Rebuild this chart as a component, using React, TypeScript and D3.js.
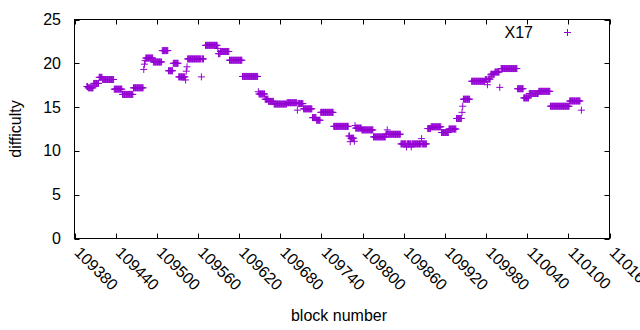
import React from "react";
import * as d3 from "d3";

// Runs of consecutive blocks with the same difficulty
const runStart = [
  109398, 109400, 109408, 109416, 109421, 109438, 109450, 109466, 109481, 109482,
  109483, 109484, 109495, 109508, 109517, 109524, 109532, 109542, 109543, 109544,
  109545, 109565, 109566, 109571, 109589, 109590, 109593, 109606, 109625, 109648,
  109649, 109658, 109663, 109671, 109690, 109705, 109706, 109714, 109727, 109733,
  109739, 109758, 109780, 109782, 109783, 109788, 109789, 109790, 109799, 109816,
  109834, 109836, 109837, 109856, 109864, 109865, 109871, 109872, 109886, 109887,
  109895, 109900, 109915, 109926, 109937, 109945, 109946, 109947, 109959, 109979,
  109982, 109983, 109987, 109993, 110000, 110002, 110026, 110035, 110043, 110057,
  110074, 110102, 110119,
];
const runEnd = [
  109399, 109407, 109415, 109420, 109437, 109449, 109465, 109480, 109481, 109482,
  109483, 109494, 109507, 109516, 109523, 109531, 109541, 109542, 109543, 109544,
  109564, 109565, 109568, 109588, 109589, 109592, 109605, 109624, 109647, 109648,
  109657, 109662, 109670, 109689, 109704, 109705, 109713, 109726, 109732, 109738,
  109757, 109779, 109781, 109782, 109787, 109788, 109789, 109798, 109815, 109833,
  109835, 109836, 109855, 109863, 109864, 109870, 109871, 109885, 109886, 109893,
  109899, 109914, 109925, 109936, 109944, 109945, 109946, 109956, 109978, 109981,
  109982, 109986, 109992, 109999, 110000, 110025, 110034, 110042, 110056, 110073,
  110101, 110117, 110119,
];
const runValue = [
  17.35, 17.2, 17.7, 18.4, 18.15, 17.05, 16.45, 17.2, 19.3, 19.9,
  20.3, 20.6, 20.15, 21.45, 19.15, 20.0, 18.45, 18.1, 19.1, 19.6,
  20.5, 18.45, 20.5, 22.05, 21.7, 21.1, 21.35, 20.35, 18.5, 16.75,
  16.5, 15.9, 15.65, 15.35, 15.5, 14.65, 15.4, 14.8, 13.8, 13.5,
  14.4, 12.8, 11.7, 11.05, 11.45, 11.1, 12.9, 12.6, 12.4, 11.6,
  11.9, 12.4, 11.9, 10.8, 10.45, 10.8, 10.45, 10.8, 11.4, 10.8,
  12.55, 12.75, 12.1, 12.5, 13.7, 14.4, 15.1, 15.9, 17.95, 18.15,
  17.55, 18.2, 18.75, 19.0, 17.25, 19.4, 17.1, 16.05, 16.55, 16.8,
  15.1, 15.7, 14.65,
];

const xTicks = [
  109380, 109440, 109500, 109560, 109620, 109680, 109740, 109800, 109860,
  109920, 109980, 110040, 110100, 110160,
];
const yTicks = [0, 5, 10, 15, 20, 25];
const seriesName = "X17";

const W = 640;
const H = 330;
const L = 74.5;
const R = 609.5;
const T = 19.5;
const B = 238.5;
const COLOR = "#9400d3";
const FONT = "'Liberation Sans', Arial, sans-serif";
const FS = 16;

type Pt = { block: number; value: number };

export default function App() {
  const x = d3.scaleLinear().domain([109380, 110160]).range([L, R]);
  const y = d3.scaleLinear().domain([0, 25]).range([B, T]);

  const points: Pt[] = [];
  runStart.forEach((s, i) => {
    for (let b = s; b <= runEnd[i]; b++) points.push({ block: b, value: runValue[i] });
  });

  const hs = 3.5;
  const plus = (cx: number, cy: number) =>
    `M${cx - hs},${cy}H${cx + hs}M${cx},${cy - hs}V${cy + hs}`;
  const pathD = points.map((p) => plus(x(p.block), y(p.value))).join("");
  const tl = 5;

  return (
    <svg
      width={W}
      height={H}
      style={{ position: "absolute", left: 0, top: 0, background: "#fff" }}
      fontFamily={FONT}
      fontSize={FS}
    >
      <rect x={0} y={0} width={W} height={H} fill="#fff" />
      {/* ticks */}
      <g stroke="#000" strokeWidth={1}>
        {yTicks.map((t) => (
          <g key={"y" + t}>
            <line x1={L} x2={L + tl} y1={Math.round(y(t)) + 0.5} y2={Math.round(y(t)) + 0.5} />
            <line x1={R} x2={R - tl} y1={Math.round(y(t)) + 0.5} y2={Math.round(y(t)) + 0.5} />
          </g>
        ))}
        {xTicks.map((t) => (
          <g key={"x" + t}>
            <line x1={Math.round(x(t)) + 0.5} x2={Math.round(x(t)) + 0.5} y1={B} y2={B - tl} />
            <line x1={Math.round(x(t)) + 0.5} x2={Math.round(x(t)) + 0.5} y1={T} y2={T + tl} />
          </g>
        ))}
      </g>
      {/* data */}
      <path d={pathD} stroke={COLOR} strokeWidth={1} fill="none" />
      {/* frame */}
      <rect x={L} y={T} width={R - L} height={B - T} fill="none" stroke="#000" strokeWidth={1} />
      {/* y labels */}
      {yTicks.map((t) => (
        <text key={"yl" + t} x={61} y={y(t) + 5.5} textAnchor="end" fill="#000">
          {t}
        </text>
      ))}
      {/* x labels */}
      {xTicks.map((t) => (
        <text
          key={"xl" + t}
          transform={`translate(${x(t) - 1},${B + 15}) rotate(45)`}
          textAnchor="start"
          fill="#000"
        >
          {t}
        </text>
      ))}
      <text transform={`translate(21,${(T + B) / 2}) rotate(-90)`} textAnchor="middle" fill="#000">
        difficulty
      </text>
      <text x={339} y={321} textAnchor="middle" fill="#000">
        block number
      </text>
      {/* legend */}
      <text x={533} y={37.5} textAnchor="end" fill="#000">
        {seriesName}
      </text>
      <path d={plus(567.5, 32.5)} stroke={COLOR} strokeWidth={1} fill="none" />
    </svg>
  );
}
